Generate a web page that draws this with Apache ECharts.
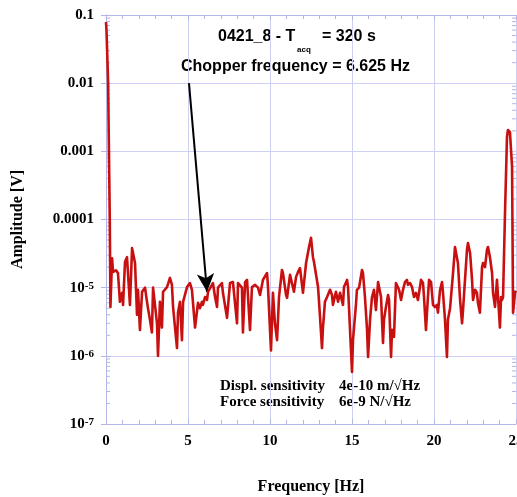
<!DOCTYPE html>
<html>
<head>
<meta charset="utf-8">
<script src="https://cdn.jsdelivr.net/npm/echarts@6/dist/echarts.min.js"></script>
<style>html,body{margin:0;padding:0;background:#fff;}#c{width:517px;height:497px;}</style>
</head>
<body>
<div id="c"></div>
<script>
// ---- data ----
const freqHz = [0,0.03,0.13,0.18,0.23,0.27,0.37,0.43,0.61,0.73,0.85,0.98,1.04,1.16,1.28,1.34,1.46,1.59,1.65,1.77,1.89,1.95,2.07,2.20,2.38,2.50,2.56,2.68,2.80,2.87,2.99,3.11,3.17,3.29,3.41,3.48,3.72,3.90,4.02,4.09,4.33,4.39,4.51,4.63,4.70,4.94,5.12,5.24,5.43,5.61,5.73,5.85,5.91,6.04,6.16,6.22,6.34,6.52,6.65,6.77,6.83,7.07,7.13,7.38,7.56,7.74,7.99,8.05,8.29,8.35,8.48,8.60,8.78,8.90,9.09,9.27,9.39,9.57,9.82,9.88,10.06,10.18,10.30,10.43,10.55,10.73,10.79,10.98,11.04,11.22,11.34,11.46,11.59,11.71,11.83,11.95,12.01,12.20,12.26,12.38,12.50,12.62,12.68,12.80,12.93,13.05,13.17,13.23,13.35,13.48,13.54,13.66,13.78,13.84,14.02,14.15,14.27,14.45,14.51,14.70,14.76,14.88,15.00,15.06,15.24,15.30,15.43,15.61,15.67,15.79,15.91,15.98,16.10,16.22,16.34,16.46,16.59,16.65,16.77,16.89,16.95,17.07,17.20,17.26,17.38,17.44,17.56,17.68,17.80,17.87,17.99,18.11,18.23,18.35,18.41,18.54,18.66,18.78,18.90,19.02,19.09,19.21,19.33,19.39,19.51,19.63,19.70,19.82,19.94,20.06,20.18,20.24,20.37,20.49,20.55,20.67,20.79,20.85,20.98,21.10,21.16,21.28,21.40,21.46,21.59,21.71,21.77,21.89,22.01,22.07,22.20,22.32,22.38,22.50,22.62,22.68,22.80,22.93,22.99,23.11,23.23,23.29,23.41,23.54,23.60,23.72,23.84,23.90,24.02,24.09,24.15,24.21,24.33,24.45,24.51,24.63,24.76,24.82,24.94,25.00];
const amplitudeV = [0.079,0.06,0.01,0.001,1e-4,5.2e-6,2.7e-5,1.7e-5,1.8e-5,1.64e-5,6.2e-6,8.4e-6,5.6e-6,2.4e-5,2.8e-5,2.8e-5,5.6e-6,3.8e-5,3.8e-5,2.3e-5,4.0e-6,9.3e-6,2.4e-6,8.7e-6,1.0e-5,6.2e-6,5.0e-6,3.4e-6,2.2e-6,1.0e-5,1.0e-5,3.0e-6,1.0e-6,6.2e-6,2.6e-6,8.7e-6,1.02e-5,1.39e-5,1.1e-5,5.2e-6,1.3e-6,4.3e-6,6.2e-6,1.7e-6,6.2e-6,1.02e-5,1.17e-5,9.3e-6,2.6e-6,6.0e-6,5.0e-6,6.2e-6,5.6e-6,7.3e-6,6.6e-6,8.7e-6,8.4e-6,1.17e-5,7.3e-6,5.2e-6,1.0e-5,1.17e-5,8.4e-6,3.6e-6,1.17e-5,1.21e-5,3.0e-6,1.17e-5,1.0e-5,2.2e-6,1.21e-5,1.3e-5,2.4e-6,1.02e-5,1.1e-5,1.0e-5,7.8e-6,1.3e-5,1.64e-5,1.0e-5,1.2e-6,8.4e-6,3.0e-6,1.7e-6,7.3e-6,1.82e-5,1.64e-5,7.8e-6,7.1e-6,1.54e-5,1.54e-5,8.7e-6,1.44e-5,1.7e-5,1.94e-5,1.82e-5,8.4e-6,2.3e-5,2.4e-5,3.95e-5,5.4e-5,2.8e-5,2.4e-5,2.3e-5,1.02e-5,3.7e-6,1.3e-6,2.6e-6,6.2e-6,7.3e-6,7.1e-6,9.3e-6,7.8e-6,5.6e-6,8.7e-6,6.2e-6,8.4e-6,5.6e-6,1.02e-5,1.3e-5,1.0e-5,2.4e-6,5.8e-7,1.7e-6,5.6e-6,9.3e-6,1.0e-5,1.82e-5,1.64e-5,7.3e-6,2.6e-6,9.6e-7,3.4e-6,7.3e-6,9.3e-6,4.7e-6,1.21e-5,1.17e-5,7.3e-6,1.55e-6,3.4e-6,5.2e-6,7.8e-6,6.6e-6,9.6e-7,2.4e-6,1.9e-6,1.17e-5,1.21e-5,9.3e-6,6.6e-6,9.3e-6,1.21e-5,1.3e-5,1.1e-5,1.17e-5,1.02e-5,7.3e-6,8.4e-6,6.6e-6,8.4e-6,1.3e-5,1.17e-5,7.3e-6,2.4e-6,7.3e-6,1.3e-5,1.21e-5,5.6e-6,5.2e-6,5.6e-6,4.3e-6,9.3e-6,1.21e-5,8.4e-6,3.4e-6,9.6e-7,3.4e-6,5.0e-6,4.7e-6,1.64e-5,3.95e-5,4.2e-5,2.3e-5,6.6e-6,3.0e-6,4.7e-6,1.3e-5,3.57e-5,4.5e-5,3.23e-5,1.3e-5,6.6e-6,9.3e-6,8.4e-6,6.0e-6,4.3e-6,2.0e-5,2.3e-5,2.0e-5,3.57e-5,3.95e-5,2.82e-5,1.64e-5,8.4e-6,5.2e-6,1.3e-5,1.3e-5,2.6e-6,7.3e-6,6.6e-6,7.3e-6,1.25e-4,1.62e-3,2.06e-3,1.92e-3,5.9e-4,4.3e-6,8.4e-6,9.0e-6];

const xTickValues = [0, 5, 10, 15, 20, 25];
const yTickExponents = [-7, -6, -5, -4, -3, -2, -1];
const yTickTexts = ['10{sup|-7}', '10{sup|-6}', '10{sup|-5}', '0.0001', '0.001', '0.01', '0.1'];

const arrowFrom = [5.06, 0.01];
const arrowTo = [6.16, 8.7e-6];

// ---- styles ----
const SERIF = '"Liberation Serif","Times New Roman",serif';
const SANS = '"Liberation Sans",Arial,sans-serif';
const frameColor = '#b3b6e6';
const gridColor = '#cdd0f3';

const minorLogTicks = [];
for (let e = -7; e < -1; e++) for (let m = 2; m <= 9; m++) minorLogTicks.push([0, m * Math.pow(10, e)]);

const chart = echarts.init(document.getElementById('c'), null, {renderer: 'canvas'});

const xCommon = {
  type: 'value', min: 0, max: 25, interval: 5,
  axisLine: {show: true, lineStyle: {color: frameColor, width: 1}},
  axisTick: {show: true, inside: true, length: 5, lineStyle: {color: frameColor}},
  minorTick: {show: true, splitNumber: 5, length: 4, lineStyle: {color: frameColor}},
};

chart.setOption({
  animation: false,
  backgroundColor: '#fff',
  grid: {left: 106, right: 1, top: 15, bottom: 73, containLabel: false, outerBoundsMode: 'none'},
  xAxis: [
    Object.assign({}, xCommon, {
      position: 'bottom',
      name: 'Frequency [Hz]', nameLocation: 'middle', nameGap: 55,
      nameTextStyle: {fontFamily: SERIF, fontWeight: 'bold', fontSize: 16, color: '#000'},
      axisLabel: {show: true, margin: 10, fontFamily: SERIF, fontWeight: 'bold', fontSize: 15, color: '#000',
        customValues: xTickValues, hideOverlap: false},
      splitLine: {show: true, lineStyle: {color: gridColor, width: 1}},
    }),
    Object.assign({}, xCommon, {
      position: 'top', axisLabel: {show: false}, splitLine: {show: false}
    })
  ],
  yAxis: [
    {
      type: 'log', logBase: 10, min: 1e-7, max: 0.1, position: 'left',
      name: 'Amplitude [V]', nameLocation: 'middle', nameGap: 80, nameRotate: 90,
      nameTextStyle: {fontFamily: SERIF, fontWeight: 'bold', fontSize: 16, color: '#000'},
      axisLine: {show: true, lineStyle: {color: frameColor, width: 1}},
      axisTick: {show: true, inside: true, length: 5, lineStyle: {color: frameColor}},
      splitLine: {show: true, lineStyle: {color: gridColor, width: 1}},
      axisLabel: {
        margin: 12, fontFamily: SERIF, fontWeight: 'bold', fontSize: 15, color: '#000',
        formatter: function (v) {
          const e = Math.round(Math.log10(v));
          const i = yTickExponents.indexOf(e);
          return i >= 0 ? yTickTexts[i] : '';
        },
        rich: {
          sup: {fontFamily: SERIF, fontWeight: 'bold', fontSize: 11, color: '#000', verticalAlign: 'top', lineHeight: 10, padding: [0, 0, 0, 0]}
        }
      }
    },
    {
      type: 'log', logBase: 10, min: 1e-7, max: 0.1, position: 'right',
      axisLine: {show: true, lineStyle: {color: frameColor, width: 1}},
      axisTick: {show: true, inside: true, length: 5, lineStyle: {color: frameColor}},
      splitLine: {show: false},
      axisLabel: {show: false}
    }
  ],
  graphic: [
    {type: 'text', left: 218, top: 29, style: {text: '0421_8 - T', fontFamily: SANS, fontWeight: 'bold', fontSize: 16, fill: '#000'}},
    {type: 'text', left: 297, top: 46, style: {text: 'acq', fontFamily: SANS, fontWeight: 'bold', fontSize: 8, fill: '#000'}},
    {type: 'text', left: 322, top: 29, style: {text: '= 320 s', fontFamily: SANS, fontWeight: 'bold', fontSize: 16, fill: '#000'}},
    {type: 'text', left: 181, top: 59, style: {text: 'Chopper frequency = 6.625 Hz', fontFamily: SANS, fontWeight: 'bold', fontSize: 16, fill: '#000'}},
    {type: 'text', left: 220, top: 379, style: {text: 'Displ. sensitivity', fontFamily: SERIF, fontWeight: 'bold', fontSize: 15, fill: '#000'}},
    {type: 'text', left: 339, top: 379, style: {text: '4e-10 m/\u221AHz', fontFamily: SERIF, fontWeight: 'bold', fontSize: 15, fill: '#000'}},
    {type: 'text', left: 220, top: 395, style: {text: 'Force sensitivity', fontFamily: SERIF, fontWeight: 'bold', fontSize: 15, fill: '#000'}},
    {type: 'text', left: 339, top: 395, style: {text: '6e-9 N/\u221AHz', fontFamily: SERIF, fontWeight: 'bold', fontSize: 15, fill: '#000'}}
  ],
  series: [
    {
      type: 'line', xAxisIndex: 0, yAxisIndex: 0,
      data: freqHz.map((f, i) => [f, amplitudeV[i]]),
      showSymbol: false, smooth: false,
      lineStyle: {color: '#c81010', width: 2.6, join: 'round'},
      itemStyle: {color: '#c81010'},
      z: 5,
      markLine: {
        silent: true, animation: false,
        symbol: ['none', 'arrow'], symbolSize: [13, 18],
        label: {show: false},
        lineStyle: {color: '#000', width: 2, type: 'solid'},
        itemStyle: {color: '#000'},
        data: [[{coord: arrowFrom}, {coord: arrowTo}]]
      }
    },
    {
      type: 'custom', xAxisIndex: 0, yAxisIndex: 0, silent: true, z: 1,
      data: minorLogTicks,
      renderItem: function (params, api) {
        const v = api.value(1);
        const pl = api.coord([0, v]);
        const pr = api.coord([25, v]);
        return {type: 'group', children: [
          {type: 'line', shape: {x1: pl[0], y1: pl[1], x2: pl[0] + 4, y2: pl[1]}, style: {stroke: frameColor, lineWidth: 1}},
          {type: 'line', shape: {x1: pr[0], y1: pr[1], x2: pr[0] - 4, y2: pr[1]}, style: {stroke: frameColor, lineWidth: 1}}
        ]};
      }
    }
  ]
});
</script>
</body>
</html>
